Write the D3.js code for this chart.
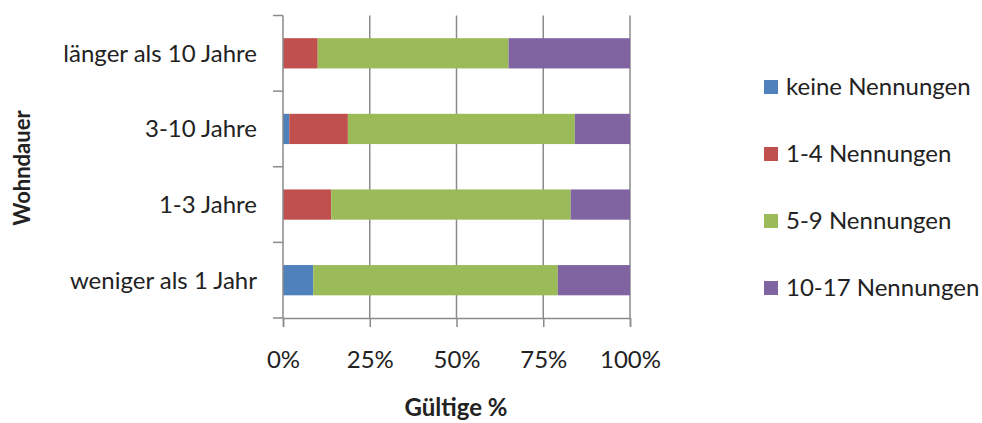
<!DOCTYPE html>
<html><head><meta charset="utf-8">
<script src="https://cdn.jsdelivr.net/npm/d3@7"></script>
<style>body{margin:0;background:#fff}svg{display:block}text{font-family:Lato,"Open Sans",sans-serif;fill:#222}</style>
</head><body><svg id="c" width="982" height="423"></svg>
<script>
const categories = ["länger als 10 Jahre","3-10 Jahre","1-3 Jahre","weniger als 1 Jahr"];
const seriesNames = ["keine Nennungen","1-4 Nennungen","5-9 Nennungen","10-17 Nennungen"];
const keine = [0, 1.8, 0, 8.7];
const n1_4 = [10, 16.9, 13.9, 0];
const n5_9 = [55, 65.4, 69, 70.5];
const n10_17 = [35, 15.9, 17.1, 20.8];
const colors = ["#4F81BD","#C0504D","#9BBB59","#8064A2"];
const xTicks = [0,25,50,75,100];
const xTitle = "Gültige %";
const yTitle = "Wohndauer";

const svg = d3.select("#c");
const L=283, R=630, T=15.5, B=318;
const x = d3.scaleLinear().domain([0,100]).range([L,R]);
const y = d3.scaleBand().domain(categories).range([T,B]).paddingInner(0.6).paddingOuter(0.3);
const yb = d3.scaleBand().domain(categories).range([T,B]);

const vals = [keine,n1_4,n5_9,n10_17];
const rows = categories.map((c,i)=>{const o={cat:c}; seriesNames.forEach((s,j)=>o[s]=vals[j][i]); return o;});
const stack = d3.stack().keys(seriesNames)(rows);

// gridlines
svg.append("g").selectAll("line").data(xTicks.slice(1)).join("line")
  .attr("x1",d=>x(d)).attr("x2",d=>x(d)).attr("y1",T).attr("y2",B)
  .attr("stroke","#8a8a8a").attr("stroke-width",1.5);

// bars
svg.append("g").selectAll("g").data(stack).join("g").attr("fill",(d,i)=>colors[i])
  .selectAll("rect").data(d=>d).join("rect")
  .attr("x",d=>x(d[0])).attr("width",d=>x(d[1])-x(d[0]))
  .attr("y",d=>y(d.data.cat)).attr("height",y.bandwidth());

// y axis line and ticks at band boundaries
const bounds = categories.map(c=>yb(c)).concat([B]);
svg.append("line").attr("x1",L).attr("x2",L).attr("y1",T).attr("y2",B).attr("stroke","#8a8a8a").attr("stroke-width",1.5);
svg.append("g").selectAll("line").data(bounds).join("line")
  .attr("x1",L-10).attr("x2",L).attr("y1",d=>d).attr("y2",d=>d).attr("stroke","#8a8a8a").attr("stroke-width",1.5);
// x axis
const xa = svg.append("g").attr("transform",`translate(0,${B})`)
  .call(d3.axisBottom(x).tickValues(xTicks).tickFormat(d=>d+"%").tickSize(9).tickPadding(24));
xa.select(".domain").attr("stroke","#8a8a8a").attr("stroke-width",1.5);
xa.selectAll(".tick line").attr("stroke","#8a8a8a").attr("stroke-width",1.5);
xa.selectAll(".tick text").attr("font-size",24).attr("fill","#222").style("font-family","Lato,sans-serif");

// y labels
svg.append("g").selectAll("text").data(categories).join("text")
  .attr("x",257).attr("y",d=>yb(d)+yb.bandwidth()/2).attr("dy","0.35em")
  .attr("text-anchor","end").attr("font-size",24).text(d=>d);

// titles
svg.append("text").attr("x",456).attr("y",416).attr("text-anchor","middle")
  .attr("font-size",24).attr("font-weight","bold").text(xTitle);
svg.append("text").attr("transform","translate(30,168) rotate(-90)").attr("text-anchor","middle")
  .attr("font-size",22).attr("font-weight","bold").text(yTitle);

// legend
const lg = svg.append("g").selectAll("g").data(seriesNames).join("g")
  .attr("transform",(d,i)=>`translate(764,${87+i*67})`);
lg.append("rect").attr("x",0).attr("y",-7).attr("width",14).attr("height",14).attr("fill",(d,i)=>colors[i]);
lg.append("text").attr("x",22).attr("y",0).attr("dy","0.35em").attr("font-size",24).text(d=>d);
</script></body></html>
